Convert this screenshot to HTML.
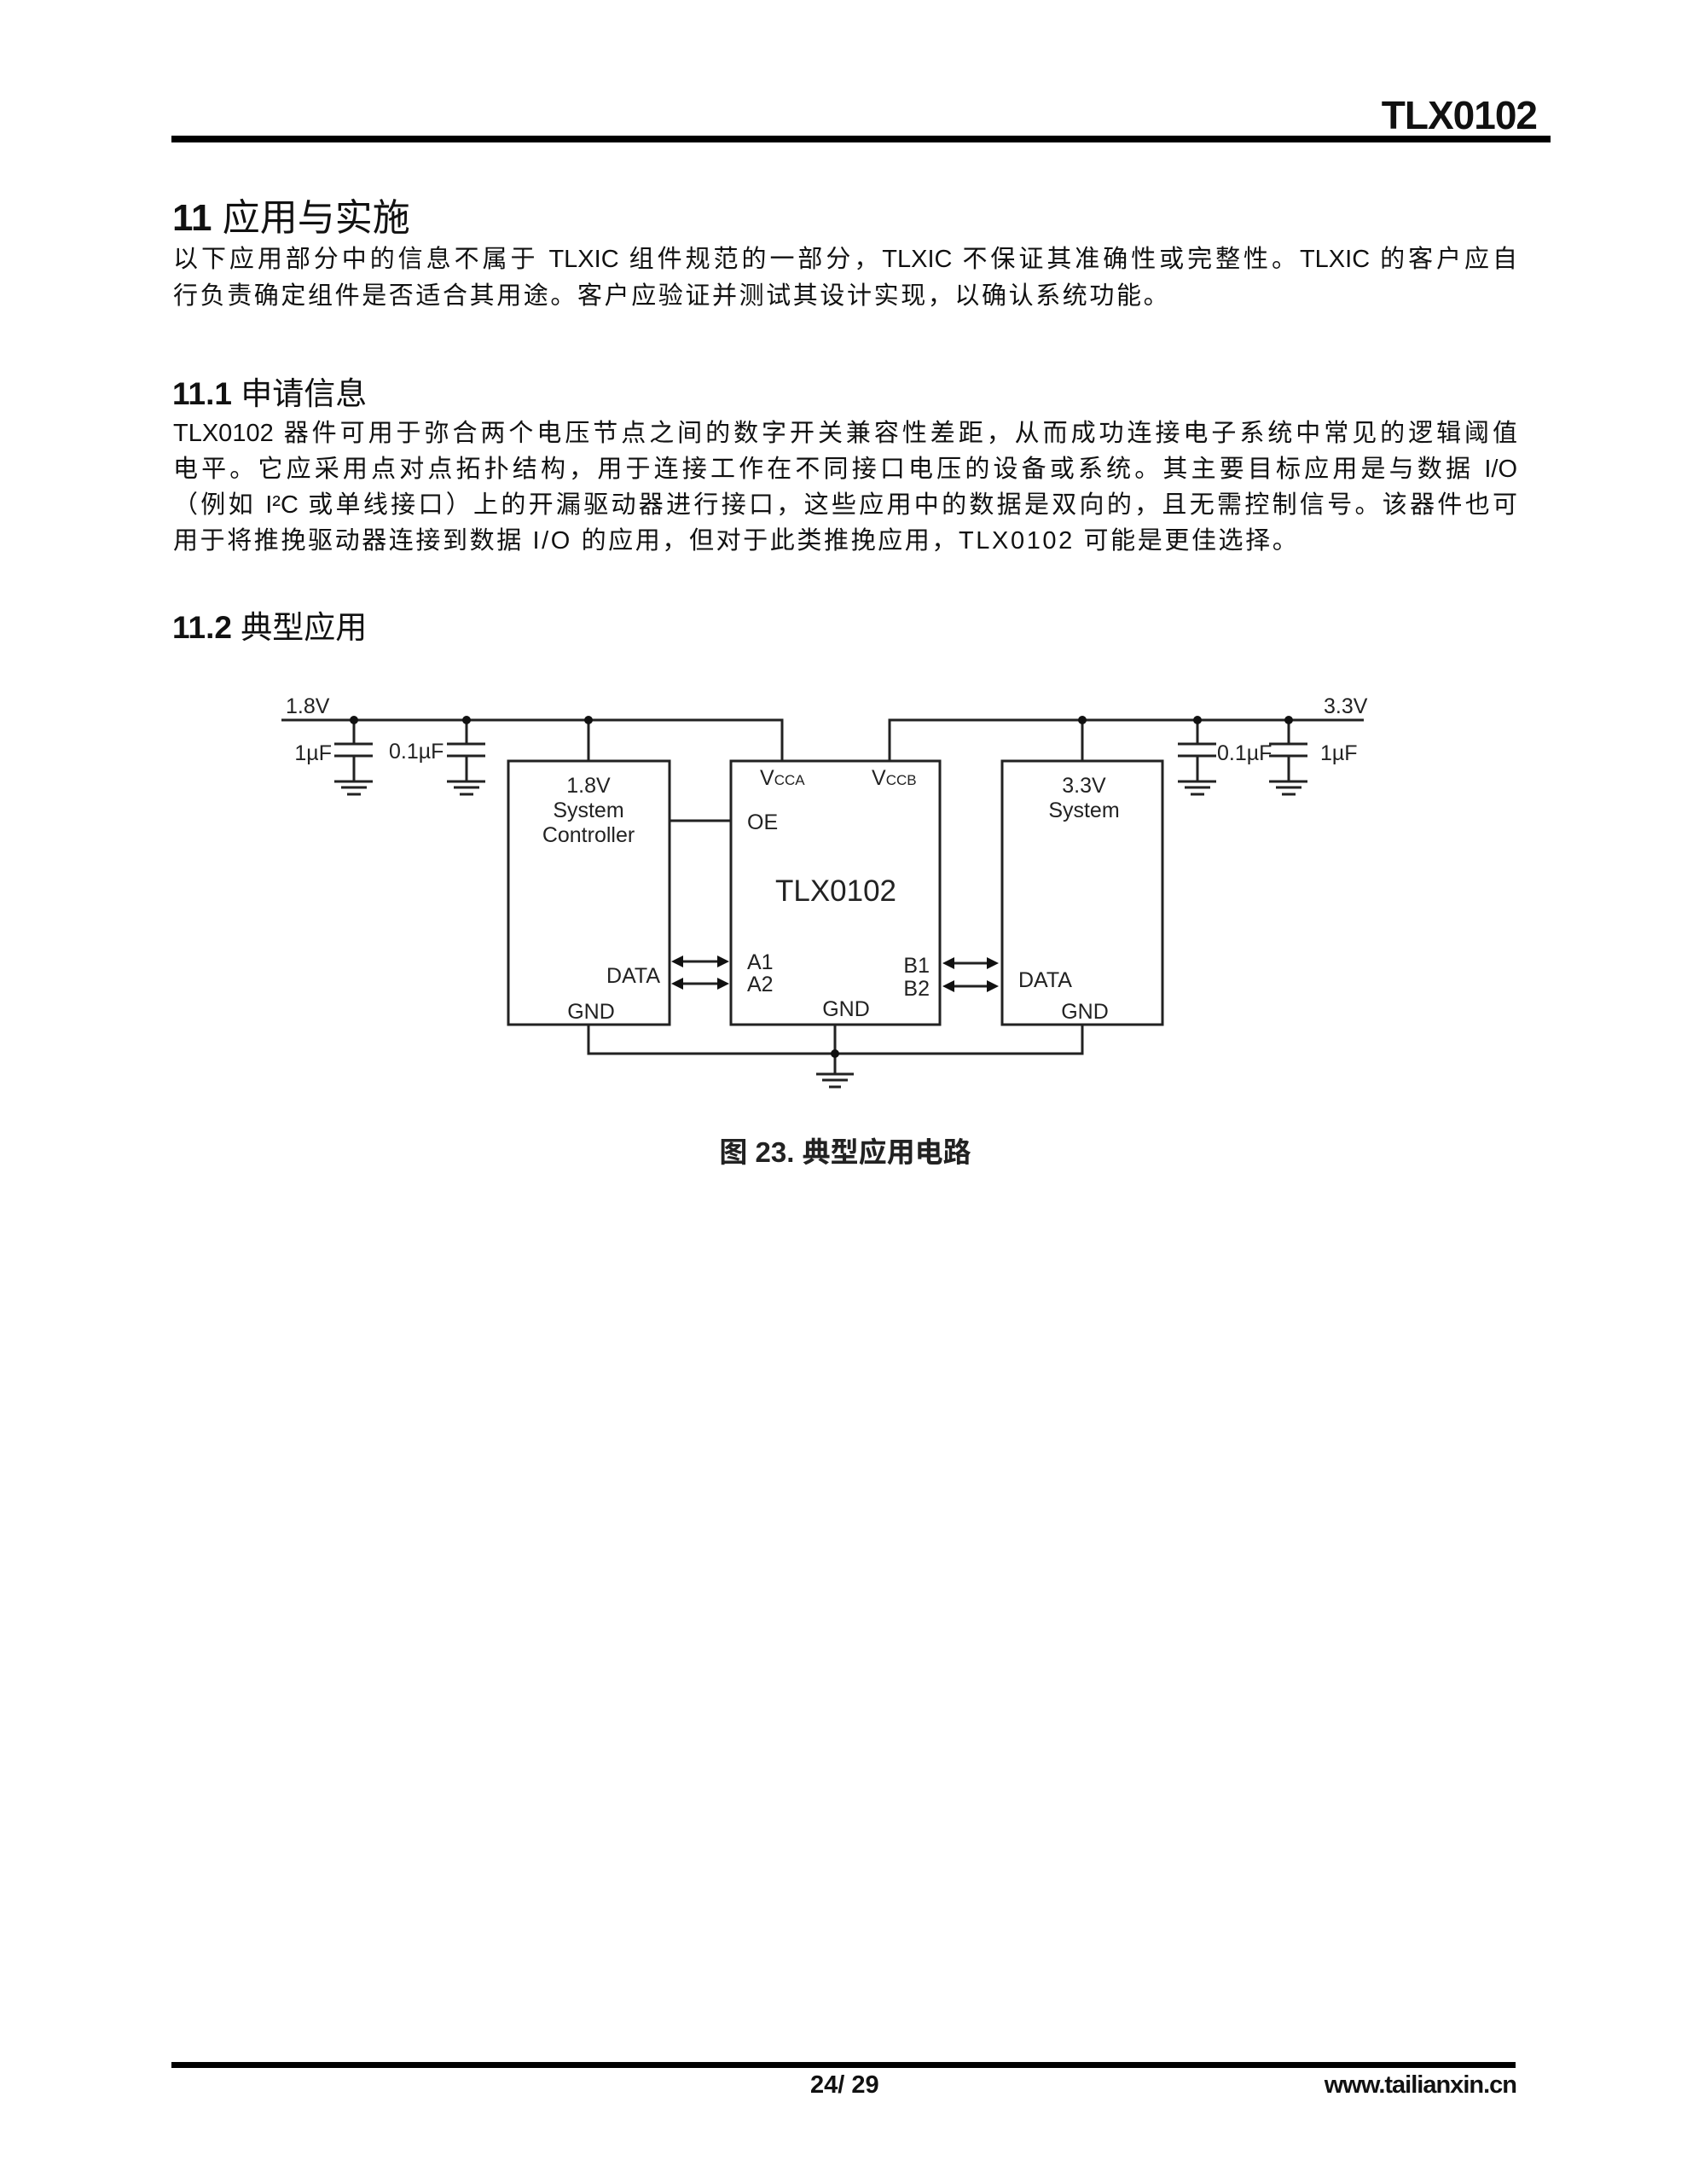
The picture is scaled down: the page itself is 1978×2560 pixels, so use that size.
<!DOCTYPE html>
<html><head><meta charset="utf-8"><style>
body{margin:0;background:#fff;}
#p{position:relative;width:1978px;height:2560px;overflow:hidden;font-family:"Liberation Sans","Noto Sans CJK SC",sans-serif;color:#111;}
.t{position:absolute;white-space:nowrap;}
.ln{position:absolute;left:203px;width:1576px;font-size:29px;line-height:34px;text-align:justify;text-align-last:justify;white-space:nowrap;}
.ls{letter-spacing:2.6px;text-align-last:left;}
</style></head><body><div id="p">
<div class="t" style="right:176px;top:108px;font-size:46px;font-weight:bold;letter-spacing:-1px;">TLX0102</div>
<div style="position:absolute;left:201px;top:159px;width:1617px;height:8px;background:#000"></div>
<div class="t" style="left:202px;top:219px;font-size:44px;font-weight:bold;">11 <span style="font-weight:normal">应用与实施</span></div>
<div class="ln" style="top:287px;">以下应用部分中的信息不属于 TLXIC 组件规范的一部分，TLXIC 不保证其准确性或完整性。TLXIC 的客户应自</div>
<div class="ln ls" style="top:330px;">行负责确定组件是否适合其用途。客户应验证并测试其设计实现，以确认系统功能。</div>
<div class="t" style="left:202px;top:431px;font-size:37px;"><b>11.1</b> <span>申请信息</span></div>
<div class="ln" style="top:491px;">TLX0102 器件可用于弥合两个电压节点之间的数字开关兼容性差距，从而成功连接电子系统中常见的逻辑阈值</div>
<div class="ln" style="top:533px;">电平。它应采用点对点拓扑结构，用于连接工作在不同接口电压的设备或系统。其主要目标应用是与数据 I/O</div>
<div class="ln" style="top:575px;">（例如 I²C 或单线接口）上的开漏驱动器进行接口，这些应用中的数据是双向的，且无需控制信号。该器件也可</div>
<div class="ln ls" style="top:617px;">用于将推挽驱动器连接到数据 I/O 的应用，但对于此类推挽应用，TLX0102 可能是更佳选择。</div>
<div class="t" style="left:202px;top:705px;font-size:37px;"><b>11.2</b> <span>典型应用</span></div>
<svg style="position:absolute;left:0;top:0" width="1978" height="2560" font-family="Liberation Sans, sans-serif" fill="#222">
<g stroke="#222" stroke-width="3" fill="none">
<path d="M330 844H917V892M1043 892V844H1599"/>
<path d="M690 844V892M1269 844V892M785 962H857M690 1201V1235H1269V1201M979 1201V1259"/>
<rect x="596" y="892" width="189" height="309"/>
<rect x="857" y="892" width="245" height="309"/>
<rect x="1175" y="892" width="188" height="309"/>
<g id="c">
<path d="M415 844V872M392 872H437M392 886H437M415 886V916M392 916H437M400 923H430M407 931H423"/>
</g>
<use href="#c" transform="translate(132 0)"/>
<use href="#c" transform="translate(989 0)"/>
<use href="#c" transform="translate(1096 0)"/>
<path d="M957 1259H1001M964 1266H994M972 1274H986"/>
<path d="M799 1127H843M799 1153H843M1117 1129H1159M1117 1156H1159"/>
</g>
<g stroke="none" fill="#111">
<circle cx="415" cy="844" r="5"/><circle cx="547" cy="844" r="5"/><circle cx="690" cy="844" r="5"/>
<circle cx="1269" cy="844" r="5"/><circle cx="1404" cy="844" r="5"/><circle cx="1511" cy="844" r="5"/>
<circle cx="979" cy="1235" r="5"/>
<path d="M787 1127l14-7v14zM855 1127l-14-7v14zM787 1153l14-7v14zM855 1153l-14-7v14z"/>
<path d="M1105 1129l14-7v14zM1171 1129l-14-7v14zM1105 1156l14-7v14zM1171 1156l-14-7v14z"/>
</g>
<g font-size="25">
<text x="335" y="836">1.8V</text>
<text x="1552" y="836">3.3V</text>
<text x="389" y="891" text-anchor="end">1µF</text>
<text x="456" y="889">0.1µF</text>
<text x="1427" y="891">0.1µF</text>
<text x="1548" y="891">1µF</text>
<text x="690" y="929" text-anchor="middle">1.8V</text>
<text x="690" y="958" text-anchor="middle">System</text>
<text x="690" y="987" text-anchor="middle">Controller</text>
<text x="1271" y="929" text-anchor="middle">3.3V</text>
<text x="1271" y="958" text-anchor="middle">System</text>
<text x="891" y="920">V<tspan font-size="17">CCA</tspan></text>
<text x="1022" y="920">V<tspan font-size="17">CCB</tspan></text>
<text x="876" y="972">OE</text>
<text x="980" y="1056" text-anchor="middle" font-size="35">TLX0102</text>
<text x="876" y="1136">A1</text>
<text x="876" y="1162">A2</text>
<text x="1090" y="1140" text-anchor="end">B1</text>
<text x="1090" y="1167" text-anchor="end">B2</text>
<text x="774" y="1152" text-anchor="end">DATA</text>
<text x="1194" y="1157">DATA</text>
<text x="693" y="1194" text-anchor="middle">GND</text>
<text x="992" y="1191" text-anchor="middle">GND</text>
<text x="1272" y="1194" text-anchor="middle">GND</text>
</g>
<text x="991" y="1362" text-anchor="middle" font-size="33" font-weight="bold" font-family="Liberation Sans, Noto Sans CJK SC, sans-serif">图 23. 典型应用电路</text>
</svg>
<div style="position:absolute;left:201px;top:2417px;width:1576px;height:7px;background:#000"></div>
<div class="t" style="left:950px;top:2428px;font-size:29px;font-weight:bold;">24/ 29</div>
<div class="t" style="right:200px;top:2428px;font-size:29px;font-weight:bold;letter-spacing:-1px;">www.tailianxin.cn</div>
</div></body></html>
